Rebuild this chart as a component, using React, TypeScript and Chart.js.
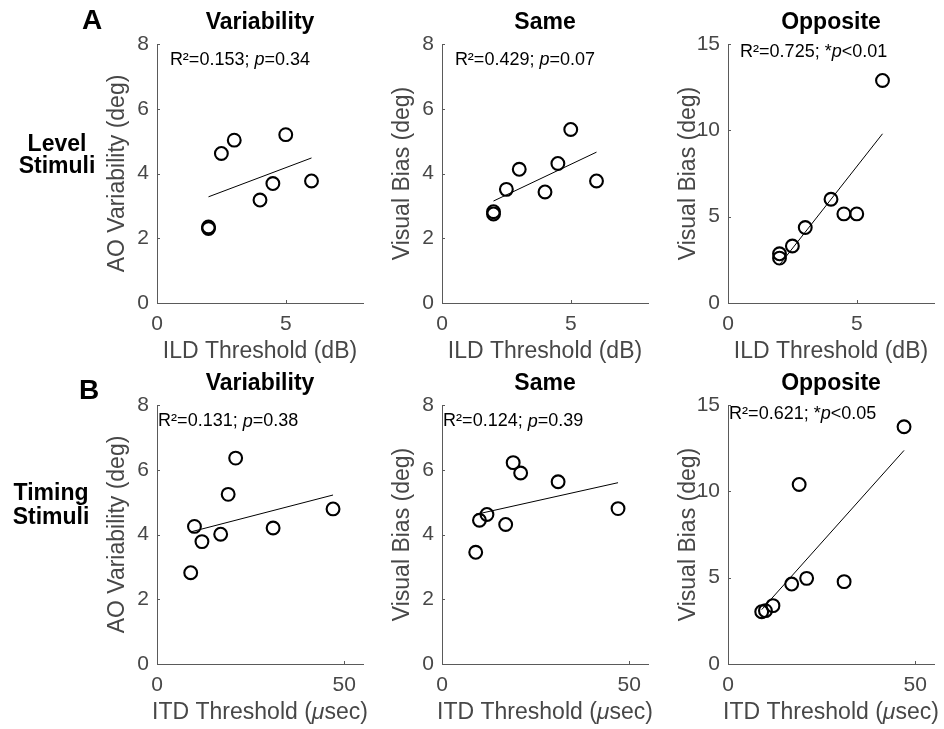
import React, { useEffect, useRef } from "react";
import { Chart, registerables } from "chart.js";
Chart.register(...registerables);

const FONT = '"Liberation Sans", Arial, Helvetica, sans-serif';
const TEXT_COLOR = "#474747";
const AXIS_COLOR = "#5a5a5a";

// ---- data ----
const ildThreshold = [2, 2, 2.5, 3, 4, 4.5, 5, 6];
const itdThreshold = [9, 10, 12, 17, 19, 21, 31, 47];

const levelVariability = [2.3, 2.35, 4.62, 5.03, 3.18, 3.69, 5.2, 3.77];
const levelSame = [2.75, 2.82, 3.51, 4.13, 3.43, 4.31, 5.36, 3.77];
const levelOpposite = [2.6, 2.85, 3.3, 4.37, 6.01, 5.16, 5.16, 12.89];

const timingVariability = [2.82, 4.25, 3.78, 4.01, 5.24, 6.36, 4.2, 4.79];
const timingSame = [3.45, 4.44, 4.62, 4.31, 6.22, 5.9, 5.63, 4.8];
const timingOpposite = [3.03, 3.09, 3.38, 4.63, 10.4, 4.96, 4.77, 13.74];

// regression line end points
const levelFitX = [2, 6];
const levelVariabilityFit = [3.28, 4.48];
const levelSameFit = [3.15, 4.66];
const levelOppositeFit = [2.21, 9.8];
const timingFitX = [9, 47];
const timingVariabilityFit = [4.08, 5.22];
const timingSameFit = [4.62, 5.6];
const timingOppositeFit = [3.15, 12.37];

// ticks
const ildTicks = [0, 5];
const itdTicks = [0, 50];
const biasTicks8 = [0, 2, 4, 6, 8];
const biasTicks15 = [0, 5, 10, 15];

// labels
const panelTitles = ["Variability", "Same", "Opposite"];
const yTitles = ["AO Variability (deg)", "Visual Bias (deg)", "Visual Bias (deg)"];
const xTitleLevel: [string, boolean][] = [["ILD Threshold (dB)", false]];
const xTitleTiming: [string, boolean][] = [["ITD Threshold (", false], ["\u03bc", true], ["sec)", false]];

const statLevelVariability: [string, boolean][] = [["R\u00b2=0.153; ", false], ["p", true], ["=0.34", false]];
const statLevelSame: [string, boolean][] = [["R\u00b2=0.429; ", false], ["p", true], ["=0.07", false]];
const statLevelOpposite: [string, boolean][] = [["R\u00b2=0.725; *", false], ["p", true], ["<0.01", false]];
const statTimingVariability: [string, boolean][] = [["R\u00b2=0.131; ", false], ["p", true], ["=0.38", false]];
const statTimingSame: [string, boolean][] = [["R\u00b2=0.124; ", false], ["p", true], ["=0.39", false]];
const statTimingOpposite: [string, boolean][] = [["R\u00b2=0.621; *", false], ["p", true], ["<0.05", false]];

// ---- layout ----
const COL_LEFT = [157, 442, 728];
const ROW_TOP = [44, 405];
const AREA_W = 206;
const AREA_H = 259;
const PAD_L = 80;
const PAD_R = 10;
const PAD_T = 44;
const PAD_B = 63;

const panels = [
  { row: 0, col: 0, x: ildThreshold, y: levelVariability, fitX: levelFitX, fitY: levelVariabilityFit, xMax: 8, yMax: 8, xTicks: ildTicks, yTicks: biasTicks8, xTitle: xTitleLevel, stat: statLevelVariability, statPos: [0.5, 7.5] },
  { row: 0, col: 1, x: ildThreshold, y: levelSame, fitX: levelFitX, fitY: levelSameFit, xMax: 8, yMax: 8, xTicks: ildTicks, yTicks: biasTicks8, xTitle: xTitleLevel, stat: statLevelSame, statPos: [0.5, 7.5] },
  { row: 0, col: 2, x: ildThreshold, y: levelOpposite, fitX: levelFitX, fitY: levelOppositeFit, xMax: 8, yMax: 15, xTicks: ildTicks, yTicks: biasTicks15, xTitle: xTitleLevel, stat: statLevelOpposite, statPos: [0.47, 14.56] },
  { row: 1, col: 0, x: itdThreshold, y: timingVariability, fitX: timingFitX, fitY: timingVariabilityFit, xMax: 55, yMax: 8, xTicks: itdTicks, yTicks: biasTicks8, xTitle: xTitleTiming, stat: statTimingVariability, statPos: [0.3, 7.49] },
  { row: 1, col: 1, x: itdThreshold, y: timingSame, fitX: timingFitX, fitY: timingSameFit, xMax: 55, yMax: 8, xTicks: itdTicks, yTicks: biasTicks8, xTitle: xTitleTiming, stat: statTimingSame, statPos: [0.3, 7.49] },
  { row: 1, col: 2, x: itdThreshold, y: timingOpposite, fitX: timingFitX, fitY: timingOppositeFit, xMax: 55, yMax: 15, xTicks: itdTicks, yTicks: biasTicks15, xTitle: xTitleTiming, stat: statTimingOpposite, statPos: [0.3, 14.5] },
];

function drawSegments(ctx: CanvasRenderingContext2D, segs: [string, boolean][], x: number, y: number, align: string, size: number, color: string, bold = false) {
  ctx.fillStyle = color;
  ctx.textBaseline = "middle";
  ctx.textAlign = "left";
  const fonts = segs.map((s) => `${s[1] ? "italic " : ""}${bold ? "bold " : ""}${size}px ${FONT}`);
  let total = 0;
  const widths = segs.map((s, i) => {
    ctx.font = fonts[i];
    const w = ctx.measureText(s[0]).width;
    total += w;
    return w;
  });
  let cx = align === "center" ? x - total / 2 : x;
  segs.forEach((s, i) => {
    ctx.font = fonts[i];
    ctx.fillText(s[0], cx, y);
    cx += widths[i];
  });
}

const overlayPlugin = {
  id: "overlay",
  afterDatasetsDraw(chart: any, _args: any, opts: any) {
    const p = opts.panel;
    if (!p) return;
    const ctx: CanvasRenderingContext2D = chart.ctx;
    const xs = chart.scales.x;
    const ys = chart.scales.y;
    const area = chart.chartArea;
    ctx.save();
    ctx.strokeStyle = AXIS_COLOR;
    ctx.lineWidth = 1;
    for (const v of p.xTicks) {
      const px = Math.round(xs.getPixelForValue(v)) + 0.5;
      ctx.beginPath();
      ctx.moveTo(px, area.bottom);
      ctx.lineTo(px, area.bottom - 3);
      ctx.stroke();
    }
    for (const v of p.yTicks) {
      const py = Math.round(ys.getPixelForValue(v)) + 0.5;
      ctx.beginPath();
      ctx.moveTo(area.left, py);
      ctx.lineTo(area.left + 3, py);
      ctx.stroke();
    }
    const cx = (area.left + area.right) / 2;
    drawSegments(ctx, [[panelTitles[p.col], false]], cx, area.top - 21.5, "center", 23, "#000", true);
    drawSegments(ctx, p.stat, xs.getPixelForValue(p.statPos[0]), ys.getPixelForValue(p.statPos[1]), "left", 18, "#000");
    drawSegments(ctx, p.xTitle, cx, area.bottom + 49, "center", 23, TEXT_COLOR);
    ctx.restore();
  },
};

function Panel({ p }: { p: any }) {
  const ref = useRef<HTMLCanvasElement>(null);
  useEffect(() => {
    if (!ref.current) return;
    const chart = new Chart(ref.current, {
      type: "scatter",
      data: {
        datasets: [
          {
            data: p.x.map((x: number, i: number) => ({ x, y: p.y[i] })),
            pointRadius: 6.4,
            pointHoverRadius: 6.4,
            pointBorderWidth: 2.1,
            borderColor: "#000",
            backgroundColor: "rgba(0,0,0,0)",
            pointStyle: "circle",
          },
          {
            data: p.fitX.map((x: number, i: number) => ({ x, y: p.fitY[i] })),
            showLine: true,
            borderColor: "#000",
            borderWidth: 1,
            pointRadius: 0,
            pointHoverRadius: 0,
            fill: false,
          },
        ],
      },
      options: {
        animation: false,
        responsive: false,
        maintainAspectRatio: false,
        events: [],
        layout: { padding: { left: 0, right: PAD_R, top: PAD_T, bottom: 0 } },
        plugins: {
          legend: { display: false },
          tooltip: { enabled: false },
          title: { display: false },
          overlay: { panel: p },
        } as any,
        scales: {
          x: {
            type: "linear",
            min: 0,
            max: p.xMax,
            afterBuildTicks: (s: any) => {
              s.ticks = p.xTicks.map((v: number) => ({ value: v }));
            },
            afterFit: (s: any) => {
              s.height = PAD_B;
            },
            grid: { display: false, drawTicks: false },
            border: { display: true, color: AXIS_COLOR, width: 1 },
            ticks: {
              color: TEXT_COLOR,
              font: { family: FONT, size: 21 },
              padding: 9,
              maxRotation: 0,
              autoSkip: false,
              callback: (v: any) => String(v),
            },
            title: { display: false },
          },
          y: {
            type: "linear",
            min: 0,
            max: p.yMax,
            afterBuildTicks: (s: any) => {
              s.ticks = p.yTicks.map((v: number) => ({ value: v }));
            },
            afterFit: (s: any) => {
              s.width = PAD_L;
            },
            grid: { display: false, drawTicks: false },
            border: { display: true, color: AXIS_COLOR, width: 1 },
            ticks: {
              color: TEXT_COLOR,
              font: { family: FONT, size: 21 },
              padding: 8,
              autoSkip: false,
              callback: (v: any) => String(v),
            },
            title: {
              display: true,
              text: yTitles[p.col],
              color: TEXT_COLOR,
              font: { family: FONT, size: 23, lineHeight: 1.2 },
              padding: { top: 27, bottom: 0 },
            },
          },
        },
      },
      plugins: [overlayPlugin],
    } as any);
    return () => chart.destroy();
  }, [p]);

  const left = COL_LEFT[p.col] - PAD_L;
  const top = ROW_TOP[p.row] - PAD_T;
  const width = PAD_L + AREA_W + PAD_R;
  const height = PAD_T + AREA_H + PAD_B;
  return (
    <canvas
      ref={ref}
      width={width}
      height={height}
      style={{ position: "absolute", left, top, width, height }}
    />
  );
}

const labelStyle: React.CSSProperties = {
  position: "absolute",
  fontFamily: FONT,
  fontWeight: "bold",
  color: "#000",
  textAlign: "center",
  whiteSpace: "nowrap",
};

export default function App() {
  return (
    <div style={{ position: "absolute", left: 0, top: 0, width: 944, height: 729, overflow: "hidden", background: "#fff" }}>
      {panels.map((p, i) => (
        <Panel key={i} p={p} />
      ))}
      <div style={{ ...labelStyle, left: 72, top: 6, width: 40, fontSize: 28, lineHeight: "28px" }}>A</div>
      <div style={{ ...labelStyle, left: 69, top: 376, width: 40, fontSize: 28, lineHeight: "28px" }}>B</div>
      <div style={{ ...labelStyle, left: 7, top: 132, width: 100, fontSize: 23, lineHeight: "22px" }}>
        Level
        <br />
        Stimuli
      </div>
      <div style={{ ...labelStyle, left: 1, top: 480, width: 100, fontSize: 23, lineHeight: "24px" }}>
        Timing
        <br />
        Stimuli
      </div>
    </div>
  );
}
